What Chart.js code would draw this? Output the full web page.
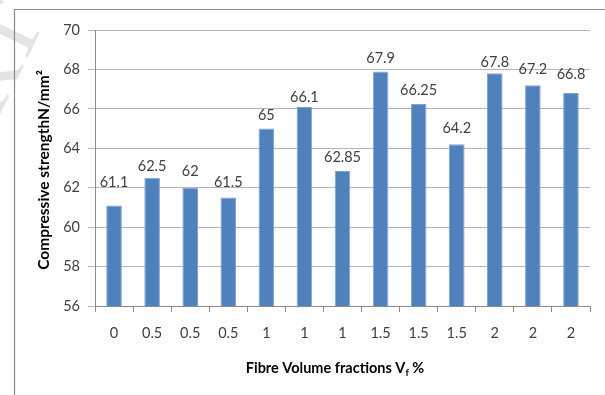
<!DOCTYPE html>
<html>
<head>
<meta charset="utf-8">
<script src="https://cdn.jsdelivr.net/npm/chart.js@4.4.1/dist/chart.umd.min.js"></script>
<style>
  html, body { margin: 0; padding: 0; background: #ffffff; }
  #wrap { position: relative; width: 605px; height: 395px; }
</style>
</head>
<body>
<div id="wrap"><canvas id="c" width="605" height="395"></canvas></div>
<script>
// Fibre volume fraction of each mix (x categories)
const categories = ['0', '0.5', '0.5', '0.5', '1', '1', '1', '1.5', '1.5', '1.5', '2', '2', '2'];
// Compressive strength, N/mm²
const strength = [61.1, 62.5, 62, 61.5, 65, 66.1, 62.85, 67.9, 66.25, 64.2, 67.8, 67.2, 66.8];
// Value axis range and step
const yMin = 56;
const yMax = 70;
const yStep = 2;

// Distance (px) from each bar top to the centre of its value label
const labelGap = [23, 12, 16, 15, 13, 10, 14, 13.5, 13.5, 16, 11, 16, 18.5];

const FONT = 'Lato, "Open Sans", sans-serif';

const framePlugin = {
  id: 'frame',
  beforeDraw(chart) {
    const ctx = chart.ctx;
    ctx.save();
    // faint watermark
    ctx.translate(46, 20);
    ctx.rotate(-64 * Math.PI / 180);
    ctx.font = '92px "Liberation Serif", serif';
    ctx.textAlign = 'right';
    ctx.textBaseline = 'alphabetic';
    ctx.fillStyle = '#e4e4e4';
    ctx.fillText('IJERT', 0, 0);
    ctx.restore();

    ctx.save();
    ctx.strokeStyle = '#8a8a8a';
    ctx.lineWidth = 1.2;
    ctx.beginPath();
    ctx.moveTo(14.5, 395);
    ctx.lineTo(14.5, 9.5);
    ctx.lineTo(605, 9.5);
    ctx.stroke();
    ctx.restore();
  }
};

const labelPlugin = {
  id: 'barValues',
  afterDatasetsDraw(chart) {
    const ctx = chart.ctx;
    const meta = chart.getDatasetMeta(0);
    ctx.save();
    ctx.font = '14.5px ' + FONT;
    ctx.fillStyle = '#404040';
    ctx.textAlign = 'center';
    ctx.textBaseline = 'middle';
    meta.data.forEach((bar, i) => {
      ctx.fillText(String(strength[i]), bar.x, bar.y - labelGap[i]);
    });
    ctx.restore();
  }
};

const titlePlugin = {
  id: 'axisTitles',
  afterDraw(chart) {
    const ctx = chart.ctx;
    ctx.save();
    ctx.fillStyle = '#000000';
    // value axis title
    ctx.save();
    ctx.translate(44, 170);
    ctx.rotate(-Math.PI / 2);
    ctx.font = 'bold 15.5px ' + FONT;
    ctx.textAlign = 'center';
    ctx.textBaseline = 'middle';
    ctx.fillText('Compressive strengthN/mm²', 0, 0);
    ctx.restore();

    // category axis title with subscript f
    const main = 'Fibre Volume fractions V';
    const sub = 'f';
    const tail = ' %';
    const bigFont = 'bold 14.5px ' + FONT;
    const smallFont = 'bold 9.5px ' + FONT;
    ctx.font = bigFont;
    const wMain = ctx.measureText(main).width;
    const wTail = ctx.measureText(tail).width;
    ctx.font = smallFont;
    const wSub = ctx.measureText(sub).width;
    const total = wMain + wSub + wTail;
    let x = 335 - total / 2;
    const y = 373;
    ctx.textAlign = 'left';
    ctx.textBaseline = 'alphabetic';
    ctx.font = bigFont;
    ctx.fillText(main, x, y);
    x += wMain;
    ctx.font = smallFont;
    ctx.fillText(sub, x, y + 3);
    x += wSub;
    ctx.font = bigFont;
    ctx.fillText(tail, x, y);
    ctx.restore();
  }
};

new Chart(document.getElementById('c'), {
  type: 'bar',
  data: {
    labels: categories,
    datasets: [{
      data: strength,
      backgroundColor: '#4f81bd',
      borderColor: '#7fa3d1',
      borderWidth: 1,
      categoryPercentage: 0.82,
      barPercentage: 0.5
    }]
  },
  options: {
    responsive: false,
    animation: false,
    devicePixelRatio: 1,
    layout: { padding: { top: 30, right: 15, left: 0, bottom: 0 } },
    plugins: {
      legend: { display: false },
      tooltip: { enabled: false },
      title: { display: false }
    },
    scales: {
      x: {
        afterFit(scale) { scale.height = 89; },
        grid: {
          offset: true,
          drawOnChartArea: false,
          drawTicks: true,
          tickLength: 6,
          color: '#8c8c8c'
        },
        border: { color: '#8c8c8c', width: 1 },
        ticks: {
          color: '#404040',
          font: { family: FONT, size: 14.5 },
          padding: 13,
          maxRotation: 0,
          autoSkip: false
        }
      },
      y: {
        min: yMin,
        max: yMax,
        afterFit(scale) { scale.width = 95; },
        grid: {
          color: '#b5b5b5',
          tickLength: 7,
          drawTicks: true
        },
        border: { color: '#8c8c8c', width: 1 },
        ticks: {
          stepSize: yStep,
          color: '#404040',
          font: { family: FONT, size: 14.5 },
          padding: 8
        }
      }
    }
  },
  plugins: [framePlugin, labelPlugin, titlePlugin]
});
</script>
</body>
</html>
